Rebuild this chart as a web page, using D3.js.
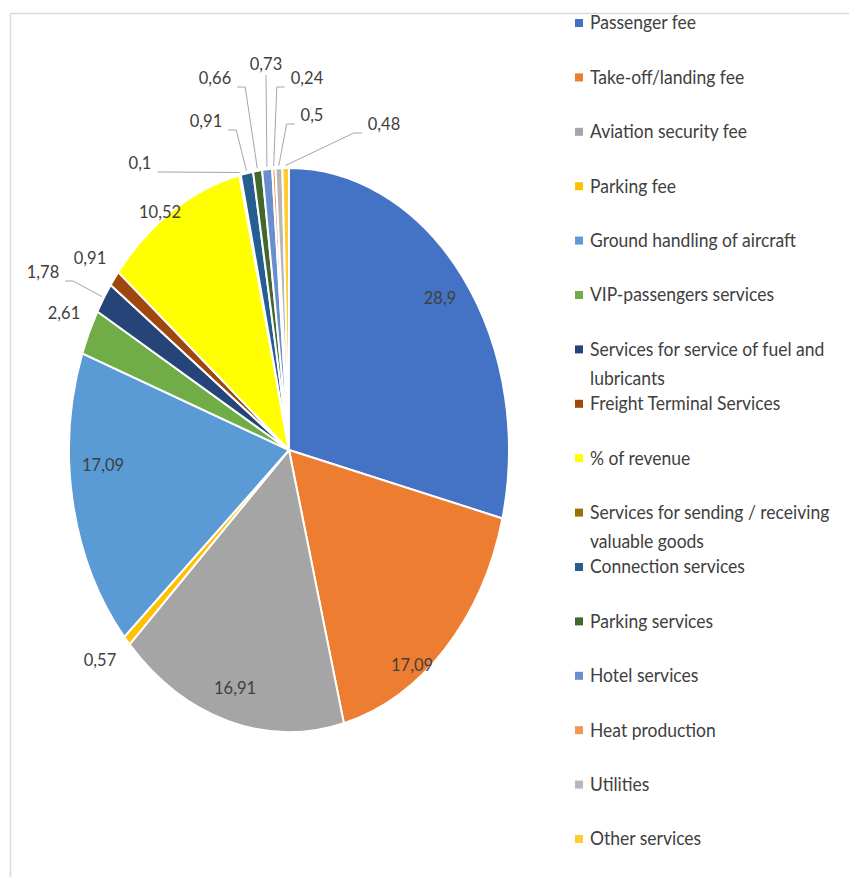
<!DOCTYPE html>
<html>
<head>
<meta charset="utf-8">
<script src="https://cdn.jsdelivr.net/npm/d3@7"></script>
<style>
  body { margin: 0; background: #fff; }
  text { font-family: Lato, 'Open Sans', sans-serif; fill: #404040; }
</style>
</head>
<body>
<svg width="849" height="877"></svg>
<script>
// data
const categories = [
  'Passenger fee', 'Take-off/landing fee', 'Aviation security fee', 'Parking fee',
  'Ground handling of aircraft', 'VIP-passengers services',
  'Services for service of fuel and lubricants', 'Freight Terminal Services',
  '% of revenue', 'Services for sending / receiving valuable goods',
  'Connection services', 'Parking services', 'Hotel services',
  'Heat production', 'Utilities', 'Other services'
];
const values = [28.9, 17.09, 16.91, 0.57, 17.09, 2.61, 1.78, 0.91, 10.52, 0.1, 0.91, 0.66, 0.73, 0.24, 0.5, 0.48];
const valueLabels = ['28,9', '17,09', '16,91', '0,57', '17,09', '2,61', '1,78', '0,91', '10,52', '0,1', '0,91', '0,66', '0,73', '0,24', '0,5', '0,48'];
const colors = ['#4472C4', '#ED7D31', '#A5A5A5', '#FFC000', '#5B9BD5', '#70AD47', '#264478', '#9E480E',
  '#FFFF00', '#997300', '#255E91', '#43682B', '#698ED0', '#F1975A', '#B7B7B7', '#FFCD33'];

// layout: label centres picked off the picture, and which ones get a leader line
const labelXY = [[440, 298], [412, 665], [235, 688], [100, 660], [103, 465], [64, 313], [43, 272], [90, 258],
  [160, 212], [140, 163], [206, 121], [215, 78], [266, 64], [307, 78], [312, 115], [384, 124]];
const leader = [6, 9, 10, 11, 12, 13, 14, 15];

const svg = d3.select('svg');
const CX = 289, CY = 450, R = 220, SY = 1.282;

// frame, partly cut off in the original
svg.append('path')
  .attr('d', 'M10.5,877 V13.5 H849')
  .attr('fill', 'none')
  .attr('stroke', '#d9d9d9')
  .attr('stroke-width', 1.5);

const pie = d3.pie().sort(null).value(d => d);
const arcs = pie(values);
const arc = d3.arc().innerRadius(0).outerRadius(R);

const g = svg.append('g')
  .attr('transform', `translate(${CX},${CY}) scale(1,${SY})`);

g.selectAll('path')
  .data(arcs)
  .enter()
  .append('path')
  .attr('d', arc)
  .attr('fill', (d, i) => colors[i])
  .attr('stroke', '#fff')
  .attr('stroke-width', 2)
  .attr('vector-effect', 'non-scaling-stroke');

// leader lines
const edge = d => {
  const a = (d.startAngle + d.endAngle) / 2;
  return [CX + (R + 2) * Math.sin(a), CY - (R + 2) * Math.cos(a) * SY];
};
leader.forEach(i => {
  const [tx, ty] = edge(arcs[i]);
  const [lx, ly] = labelXY[i];
  const hw = valueLabels[i].length * 4.8;
  let pts;
  if (Math.abs(lx - tx) < 6) {
    pts = [[lx, ly + 11], [tx, ty]];
  } else if (lx < tx) {
    pts = [[lx + hw + 3, ly + 9], [lx + hw + 11, ly + 9], [tx, ty]];
  } else {
    pts = [[lx - hw - 3, ly + 9], [lx - hw - 11, ly + 9], [tx, ty]];
  }
  svg.append('path')
    .attr('d', d3.line()(pts))
    .attr('fill', 'none')
    .attr('stroke', '#a6a6a6')
    .attr('stroke-width', 1);
});

// value labels
svg.selectAll('.val')
  .data(valueLabels)
  .enter()
  .append('text')
  .attr('class', 'val')
  .attr('transform', (d, i) => `translate(${labelXY[i][0]},${labelXY[i][1]}) scale(1,1.1)`)
  .attr('text-anchor', 'middle')
  .attr('dy', '0.35em')
  .style('font-size', '16.5px')
  .text(d => d);

// legend
const legendRows = [
  ['Passenger fee'], ['Take-off/landing fee'], ['Aviation security fee'], ['Parking fee'],
  ['Ground handling of aircraft'], ['VIP-passengers services'],
  ['Services for service of fuel and', 'lubricants'], ['Freight Terminal Services'],
  ['% of revenue'], ['Services for sending / receiving', 'valuable goods'],
  ['Connection services'], ['Parking services'], ['Hotel services'],
  ['Heat production'], ['Utilities'], ['Other services']
];
const ly = d3.scaleLinear().domain([0, categories.length - 1]).range([23, 839]);

const item = svg.selectAll('.leg')
  .data(categories)
  .enter()
  .append('g')
  .attr('class', 'leg')
  .attr('transform', (d, i) => `translate(575,${ly(i)})`);

item.append('rect')
  .attr('x', 0)
  .attr('y', -4)
  .attr('width', 8)
  .attr('height', 8)
  .attr('fill', (d, i) => colors[i]);

item.each(function (d, i) {
  const t = d3.select(this);
  legendRows[i].forEach((line, k) => {
    t.append('text')
      .attr('transform', `translate(15,${k * 29}) scale(1,1.05)`)
      .attr('dy', '0.35em')
      .style('font-size', '17.5px')
      .text(line);
  });
});
</script>
</body>
</html>
